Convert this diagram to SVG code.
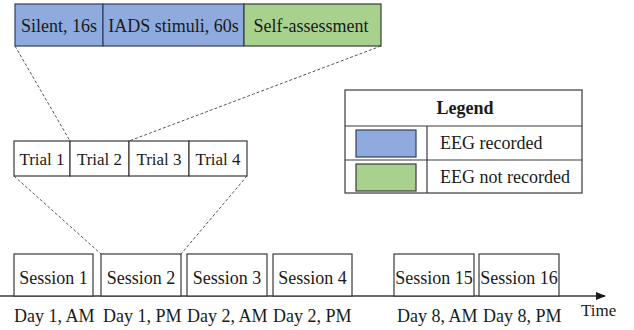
<svg xmlns="http://www.w3.org/2000/svg" width="634" height="330" viewBox="0 0 634 330" font-family="'Liberation Serif', 'DejaVu Serif', serif">
  <style>
    text { font-family: 'Liberation Serif', 'DejaVu Serif', serif; font-size: 18px; fill: #1a1a1a; }
    .small { font-size: 17px; }
    .box { fill: #ffffff; stroke: #3a3a3a; stroke-width: 1.2; }
    .rec { fill: #8faadc; stroke: #2f3f5f; stroke-width: 1.2; }
    .norec { fill: #a9d18e; stroke: #3a3a3a; stroke-width: 1.2; }
    .zoom { stroke: #555; stroke-width: 1; stroke-dasharray: 3 2; fill: none; }
    .axis { stroke: #3a3a3a; stroke-width: 1.3; fill: none; }
    .grid { stroke: #3a3a3a; stroke-width: 1.2; fill: none; }
  </style>
  <defs>
    <marker id="arrow" markerWidth="10" markerHeight="8" refX="9" refY="4" orient="auto" markerUnits="userSpaceOnUse">
      <path d="M0,0 L10,4 L0,8 Z" fill="#1a1a1a"/>
    </marker>
  </defs>
  <rect width="634" height="330" fill="#ffffff"/>

  <!-- zoom connectors -->
  <g id="connectors">
    <line class="zoom" x1="15" y1="46" x2="70" y2="141"/>
    <line class="zoom" x1="381" y1="46" x2="129" y2="141"/>
    <line class="zoom" x1="14" y1="176" x2="101" y2="254"/>
    <line class="zoom" x1="247" y1="176" x2="181" y2="254"/>
    <line class="axis" x1="0" y1="296" x2="605" y2="296" marker-end="url(#arrow)"/>
  </g>

  <!-- single trial breakdown -->
  <g id="trial-phases">
    <rect class="rec" x="15" y="4" width="88" height="42"/>
    <rect class="rec" x="103" y="4" width="141" height="42"/>
    <rect class="norec" x="244" y="4" width="137" height="42"/>
    <text x="59" y="32" text-anchor="middle">Silent, 16s</text>
    <text x="173.5" y="32" text-anchor="middle">IADS stimuli, 60s</text>
    <text x="311" y="32" text-anchor="middle">Self-assessment</text>
  </g>

  <!-- trials within a session -->
  <g id="trials">
    <rect class="box" x="14" y="141" width="56" height="35"/>
    <rect class="box" x="70" y="141" width="59" height="35"/>
    <rect class="box" x="129" y="141" width="60" height="35"/>
    <rect class="box" x="189" y="141" width="58" height="35"/>
    <text class="small" x="42" y="165" text-anchor="middle">Trial 1</text>
    <text class="small" x="99.5" y="165" text-anchor="middle">Trial 2</text>
    <text class="small" x="159" y="165" text-anchor="middle">Trial 3</text>
    <text class="small" x="218" y="165" text-anchor="middle">Trial 4</text>
  </g>

  <!-- legend -->
  <g id="legend">
    <rect class="box" x="345" y="90" width="237" height="103"/>
    <line class="grid" x1="345" y1="126" x2="582" y2="126"/>
    <line class="grid" x1="345" y1="160" x2="582" y2="160"/>
    <line class="grid" x1="427" y1="126" x2="427" y2="193"/>
    <text x="465" y="114" text-anchor="middle" font-weight="bold">Legend</text>
    <rect class="rec" x="356" y="130" width="60" height="27"/>
    <rect class="norec" x="356" y="164" width="60" height="27"/>
    <text x="440" y="149">EEG recorded</text>
    <text x="440" y="183">EEG not recorded</text>
  </g>

  <!-- sessions on the time axis -->
  <g id="session-1">
    <rect class="box" x="14" y="254" width="79" height="42"/>
    <text x="53.5" y="284" text-anchor="middle">Session 1</text>
    <text x="14" y="322">Day 1, AM</text>
  </g>
  <g id="session-2">
    <rect class="box" x="101" y="254" width="80" height="42"/>
    <text x="141" y="284" text-anchor="middle">Session 2</text>
    <text x="103" y="322">Day 1, PM</text>
  </g>
  <g id="session-3">
    <rect class="box" x="187" y="254" width="80" height="42"/>
    <text x="227" y="284" text-anchor="middle">Session 3</text>
    <text x="187" y="322">Day 2, AM</text>
  </g>
  <g id="session-4">
    <rect class="box" x="273" y="254" width="79" height="42"/>
    <text x="312.5" y="284" text-anchor="middle">Session 4</text>
    <text x="273" y="322">Day 2, PM</text>
  </g>
  <g id="session-15">
    <rect class="box" x="394" y="254" width="80" height="42"/>
    <text x="434" y="284" text-anchor="middle">Session 15</text>
    <text x="397" y="322">Day 8, AM</text>
  </g>
  <g id="session-16">
    <rect class="box" x="479" y="254" width="80" height="42"/>
    <text x="519" y="284" text-anchor="middle">Session 16</text>
    <text x="483" y="322">Day 8, PM</text>
  </g>
  <g id="time-label">
    <text class="small" x="581" y="316">Time</text>
  </g>
</svg>
